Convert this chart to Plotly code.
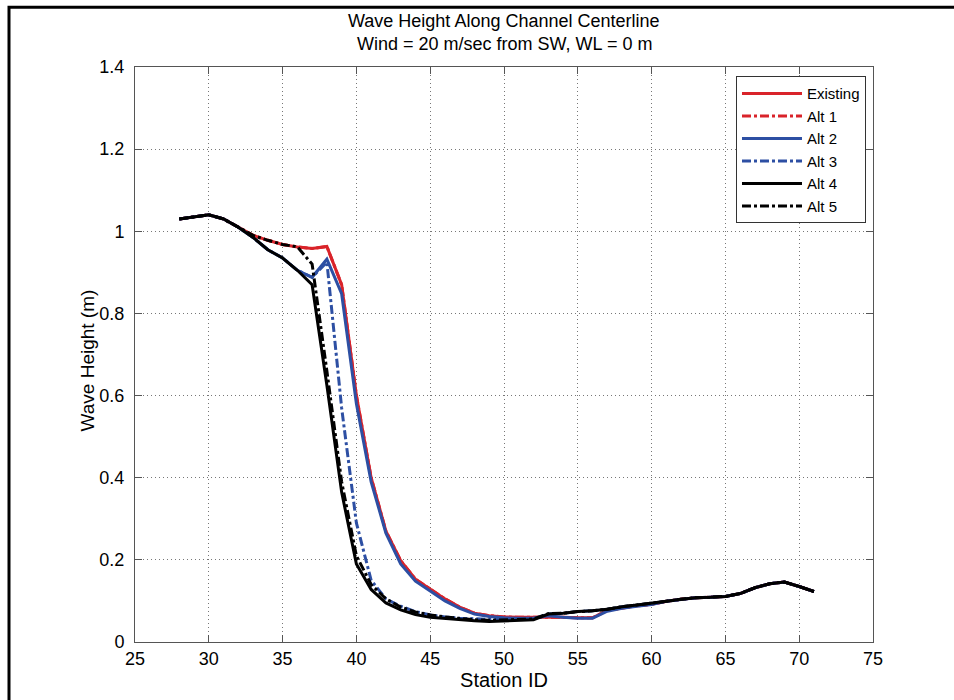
import plotly.graph_objects as go

stations = list(range(28, 72))

existing = [1.03, 1.035, 1.04, 1.03, 1.01, 0.99, 0.978, 0.968, 0.962, 0.958, 0.963,
            0.87, 0.60, 0.40, 0.27, 0.198, 0.153, 0.129, 0.105, 0.085, 0.070, 0.064,
            0.061, 0.060, 0.060, 0.061, 0.060, 0.059, 0.059, 0.077, 0.083, 0.088, 0.092,
            0.099, 0.104, 0.108, 0.109, 0.111, 0.118, 0.132, 0.142, 0.146, 0.135, 0.123]
alt1 = list(existing)
alt2 = [1.03, 1.035, 1.04, 1.03, 1.01, 0.985, 0.955, 0.935, 0.905, 0.888, 0.932,
        0.848, 0.58, 0.39, 0.265, 0.19, 0.148, 0.124, 0.100, 0.082, 0.068, 0.062,
        0.059, 0.058, 0.058, 0.064, 0.060, 0.058, 0.058, 0.075, 0.082, 0.087, 0.091,
        0.099, 0.104, 0.108, 0.109, 0.111, 0.118, 0.132, 0.142, 0.146, 0.135, 0.123]
alt3 = [1.03, 1.035, 1.04, 1.03, 1.01, 0.985, 0.955, 0.935, 0.905, 0.888, 0.925,
        0.57, 0.29, 0.15, 0.105, 0.087, 0.074, 0.066, 0.061, 0.058, 0.056, 0.055,
        0.056, 0.056, 0.057, 0.068, 0.070, 0.074, 0.076, 0.080, 0.086, 0.090, 0.094,
        0.099, 0.104, 0.108, 0.109, 0.111, 0.118, 0.132, 0.142, 0.146, 0.135, 0.123]
alt4 = [1.03, 1.035, 1.04, 1.03, 1.01, 0.985, 0.955, 0.935, 0.905, 0.870, 0.625,
        0.365, 0.19, 0.128, 0.095, 0.078, 0.067, 0.060, 0.057, 0.054, 0.052, 0.050,
        0.051, 0.052, 0.054, 0.068, 0.070, 0.074, 0.076, 0.080, 0.086, 0.090, 0.094,
        0.099, 0.104, 0.108, 0.109, 0.111, 0.118, 0.132, 0.142, 0.146, 0.135, 0.123]
alt5 = [1.03, 1.035, 1.04, 1.03, 1.01, 0.99, 0.978, 0.968, 0.962, 0.920, 0.660,
        0.39, 0.21, 0.14, 0.105, 0.085, 0.073, 0.066, 0.061, 0.057, 0.054, 0.053,
        0.054, 0.055, 0.056, 0.069, 0.070, 0.074, 0.076, 0.080, 0.086, 0.090, 0.094,
        0.099, 0.104, 0.108, 0.109, 0.111, 0.118, 0.132, 0.142, 0.146, 0.135, 0.123]

series_names = ["Existing", "Alt 1", "Alt 2", "Alt 3", "Alt 4", "Alt 5"]
series_vals = [existing, alt1, alt2, alt3, alt4, alt5]
series_colors = ["#d9232a", "#d9232a", "#2d4fa3", "#2d4fa3", "#000000", "#000000"]
series_dash = ["solid", "dashdot", "solid", "dashdot", "solid", "dashdot"]

x_ticks = [25, 30, 35, 40, 45, 50, 55, 60, 65, 70, 75]
y_ticks = [0, 0.2, 0.4, 0.6, 0.8, 1.0, 1.2, 1.4]

title_lines = ["Wave Height Along Channel Centerline", "Wind = 20 m/sec from SW, WL = 0 m"]
y_title = "Wave Height (m)"

FONT = "Liberation Sans, Arial, sans-serif"

fig = go.Figure()
for name, vals, col, dash in zip(series_names, series_vals, series_colors, series_dash):
    fig.add_trace(go.Scatter(x=stations, y=vals, mode="lines", name=name,
                             line=dict(color=col, width=3, dash=dash)))

axis_common = dict(showline=True, linecolor="#555555", linewidth=1, mirror="ticks",
                   ticks="inside", ticklen=7, tickcolor="#555555",
                   showgrid=True, gridcolor="#777777", griddash="1px,3px", gridwidth=1,
                   zeroline=False, tickfont=dict(family=FONT, size=18, color="black"))

fig.update_layout(
    width=954, height=700,
    margin=dict(l=135, r=81, t=67, b=55),
    paper_bgcolor="white", plot_bgcolor="white",
    font=dict(family=FONT, color="black"),
    xaxis=dict(range=[25, 75], tickvals=x_ticks, title=dict(text="Station ID", standoff=5,
               font=dict(family=FONT, size=20)), **axis_common),
    yaxis=dict(range=[0, 1.4], tickvals=y_ticks, ticklabelstandoff=6, **axis_common),
    legend=dict(x=0.9905, xanchor="right", y=0.984, yanchor="top",
                bgcolor="white", bordercolor="#333333", borderwidth=1,
                font=dict(family=FONT, size=15, color="black"),
                itemwidth=60, tracegroupgap=0),
    showlegend=True,
)

for txt, ypix in zip(title_lines, [21, 44]):
    fig.add_annotation(text=txt, xref="paper", yref="paper", x=0.5, y=(645 - ypix) / 578,
                       xanchor="center", yanchor="middle", showarrow=False,
                       font=dict(family=FONT, size=18, color="black"))

fig.add_annotation(text=y_title, xref="paper", yref="paper", x=(87 - 135) / 738,
                   y=(645 - 362) / 578,
                   xanchor="center", yanchor="middle", textangle=-90, showarrow=False,
                   font=dict(family=FONT, size=19, color="black"))

fig.add_shape(type="rect", xref="paper", yref="paper",
              x0=(9 - 135) / 738, x1=1.3, y0=-0.3, y1=(645 - 7) / 578,
              line=dict(color="black", width=3), fillcolor="rgba(0,0,0,0)", layer="below")

fig.write_html("out.html")
